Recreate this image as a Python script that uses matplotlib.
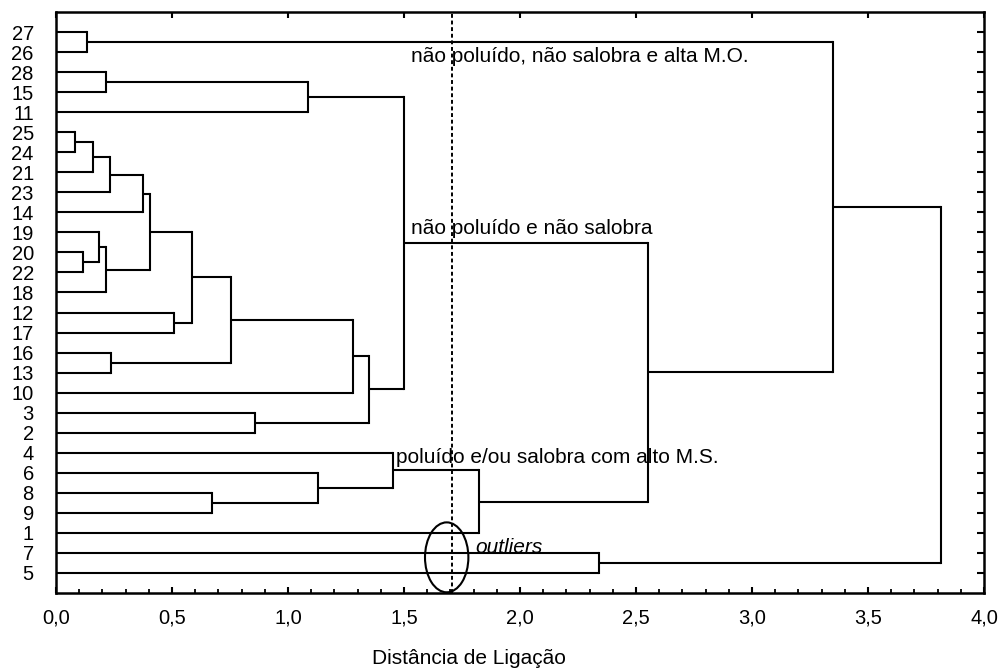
import matplotlib
matplotlib.use("Agg")
import matplotlib.pyplot as plt
from matplotlib.patches import Ellipse
from matplotlib.ticker import MultipleLocator

plt.rcParams['font.family'] = ['Liberation Sans', 'DejaVu Sans']

# ordem das amostras no dendrograma (de cima para baixo)
leaves = ['27', '26', '28', '15', '11', '25', '24', '21', '23', '14', '19', '20',
          '22', '18', '12', '17', '16', '13', '10', '3', '2', '4', '6', '8', '9',
          '1', '7', '5']

# agrupamentos: pares unidos (amostra ou grupo "cN") e distância de ligação
pairs = [
    ('27', '26'),    # c0
    ('28', '15'),    # c1
    ('c1', '11'),    # c2
    ('25', '24'),    # c3
    ('c3', '21'),    # c4
    ('c4', '23'),    # c5
    ('c5', '14'),    # c6
    ('20', '22'),    # c7
    ('19', 'c7'),    # c8
    ('c8', '18'),    # c9
    ('c6', 'c9'),    # c10
    ('12', '17'),    # c11
    ('c10', 'c11'),  # c12
    ('16', '13'),    # c13
    ('c12', 'c13'),  # c14
    ('c14', '10'),   # c15
    ('3', '2'),      # c16
    ('c15', 'c16'),  # c17
    ('c2', 'c17'),   # c18
    ('8', '9'),      # c19
    ('6', 'c19'),    # c20
    ('4', 'c20'),    # c21
    ('c21', '1'),    # c22
    ('c18', 'c22'),  # c23
    ('c0', 'c23'),   # c24
    ('7', '5'),      # c25
    ('c24', 'c25'),  # c26
]
heights = [0.134, 0.214, 1.086, 0.082, 0.159, 0.234, 0.376, 0.115, 0.184, 0.216,
           0.406, 0.507, 0.586, 0.236, 0.756, 1.280, 0.858, 1.350, 1.499, 0.671,
           1.131, 1.451, 1.822, 2.553, 3.348, 2.342, 3.816]

corte = 1.706  # linha de corte

textos = [
    (1.53, 1.23, 'não poluído, não salobra e alta M.O.', 'normal'),
    (1.53, 9.8, 'não poluído e não salobra', 'normal'),
    (1.466, 21.24, 'poluído e/ou salobra com alto M.S.', 'normal'),
    (1.806, 25.72, 'outliers', 'italic'),
]

fig = plt.figure(figsize=(9.99, 6.69), dpi=100)
ax = fig.add_axes([56/999, 1-593/669, (984-56)/999, (593-12)/669])

# posição (y) e altura (x) de cada nó
pos = {lab: (float(i), 0.0) for i, lab in enumerate(leaves)}
lw = 1.5
for k, ((a, b), h) in enumerate(zip(pairs, heights)):
    ya, ha = pos[a]
    yb, hb = pos[b]
    ax.plot([ha, h], [ya, ya], color='black', lw=lw, solid_capstyle='butt')
    ax.plot([hb, h], [yb, yb], color='black', lw=lw, solid_capstyle='butt')
    ax.plot([h, h], [ya, yb], color='black', lw=lw, solid_capstyle='projecting')
    pos['c%d' % k] = ((ya + yb) / 2, h)

# linha de corte pontilhada
ax.axvline(corte, color='black', lw=1.4, linestyle=(0, (2.0, 1.4)))

ax.add_patch(Ellipse((1.684, 26.22), 0.187, 3.49, fill=False,
                     edgecolor='black', lw=1.5))

for x, y, s, estilo in textos:
    ax.text(x, y, s, fontsize=15, style=estilo, va='center', ha='left')

ax.set_xlim(0, 4.0)
ax.set_ylim(len(leaves), -1)

ax.set_yticks(range(len(leaves)))
ax.set_yticklabels(leaves, fontsize=14.5)
ax.tick_params(axis='y', left=False, right=True, direction='in', length=5,
               width=1.5, pad=16)

ax.xaxis.set_major_locator(MultipleLocator(0.5))
ax.xaxis.set_minor_locator(MultipleLocator(0.1))
ax.set_xticklabels([('%.1f' % v).replace('.', ',') for v in ax.get_xticks()],
                   fontsize=14.5)
ax.tick_params(axis='x', which='major', top=True, bottom=True, direction='in',
               length=4.5, width=1.5, pad=11)
ax.tick_params(axis='x', which='minor', top=False, bottom=True, direction='in',
               length=3, width=1.3)

for sp in ax.spines.values():
    sp.set_linewidth(1.8)

fig.text(469/999, 1-659/669, 'Distância de Ligação', fontsize=15,
         ha='center', va='center')

fig.savefig('out.png', dpi=100)
